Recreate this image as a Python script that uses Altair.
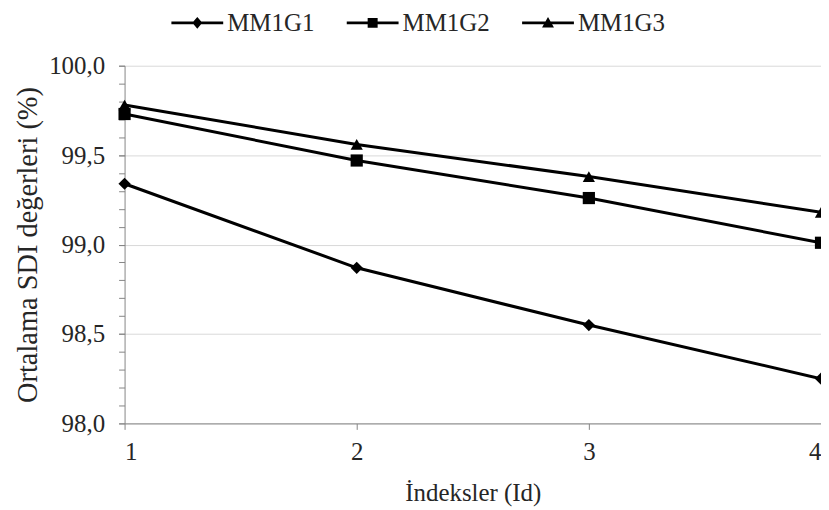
import altair as alt
import pandas as pd

# ---- data ----
ids = [1, 2, 3, 4]
series_names = ["MM1G1", "MM1G2", "MM1G3"]
mm1g1 = [99.34, 98.87, 98.55, 98.25]
mm1g2 = [99.73, 99.47, 99.26, 99.01]
mm1g3 = [99.78, 99.56, 99.38, 99.18]

x_ticks = [1, 2, 3, 4]
y_major = [98.0, 98.5, 99.0, 99.5, 100.0]
y_minor = [98.0, 98.1, 98.2, 98.3, 98.4, 98.5, 98.6, 98.7, 98.8, 98.9,
           99.0, 99.1, 99.2, 99.3, 99.4, 99.5, 99.6, 99.7, 99.8, 99.9, 100.0]

rows = []
for name, vals in zip(series_names, [mm1g1, mm1g2, mm1g3]):
    for i, v in zip(ids, vals):
        rows.append({"series": name, "Id": i, "SDI": v})
df = pd.DataFrame(rows)

# ---- styling ----
FONT = "Liberation Serif"
TXT = "#262626"
AX = "#868686"
GRID = "#d9d9d9"

marker_shapes = ["diamond", "square", "triangle-up"]
# legend symbols: a horizontal line segment with the series marker on it
LINE = "M-2,-0.115H2V0.115H-2Z"
legend_shapes = [
    LINE + "M0,-0.46L0.385,0L0,0.46L-0.385,0Z",
    LINE + "M-0.385,-0.385H0.385V0.385H-0.385Z",
    LINE + "M0,-0.46L0.46,0.36L-0.46,0.36Z",
]

x_scale = alt.Scale(domain=[1, 4], nice=False, zero=False)
y_scale = alt.Scale(domain=[98, 100], nice=False, zero=False)
label_expr = "replace(format(datum.value, '.1f'), '.', ',')"

x_axis = alt.Axis(
    values=x_ticks, format="d", title="İndeksler (Id)", grid=False,
    domainColor=AX, tickColor=AX, tickSize=6,
    labelFont=FONT, labelFontSize=25, labelColor=TXT, labelPadding=10,
    titleFont=FONT, titleFontSize=25, titleFontWeight="normal",
    titleColor=TXT, titleY=77, titleBaseline="alphabetic",
)
x_enc = alt.X("Id:Q", scale=x_scale, axis=x_axis)

base = alt.Chart(df)

lines = base.mark_line(color="black", strokeWidth=3).encode(
    x=x_enc,
    y=alt.Y(
        "SDI:Q", scale=y_scale,
        axis=alt.Axis(
            values=y_major, labelExpr=label_expr, title="Ortalama SDI değerleri (%)",
            grid=True, gridColor=GRID, domainColor=AX, tickColor=AX, tickSize=6,
            labelFont=FONT, labelFontSize=25, labelColor=TXT, labelPadding=14,
            titleFont=FONT, titleFontSize=28.5, titleFontWeight="normal",
            titleColor=TXT, titleX=-97, titleY=179.5, titleBaseline="middle",
            orient="left",
        ),
    ),
    detail="series:N",
)

points = base.mark_point(filled=True, color="black", opacity=1, size=150).encode(
    x=x_enc,
    y=alt.Y("SDI:Q", scale=y_scale, axis=None),
    shape=alt.Shape(
        "series:N",
        scale=alt.Scale(domain=series_names, range=marker_shapes),
        legend=None,
    ),
)

legend_layer = base.mark_point(filled=True, color="black", opacity=1, size=0).encode(
    x=x_enc,
    y=alt.Y(
        "SDI:Q", scale=y_scale,
        axis=alt.Axis(
            values=y_minor, labels=False, grid=False, domain=False, ticks=True,
            tickSize=6, tickColor=AX, title=None, orient="left",
        ),
    ),
    shape=alt.Shape(
        "series:N",
        scale=alt.Scale(domain=series_names, range=legend_shapes),
        legend=alt.Legend(
            title=None, orient="none", legendX=60, legendY=-56,
            direction="horizontal", symbolSize=676, symbolStrokeWidth=0,
            symbolFillColor="black", symbolOpacity=1,
            labelFont=FONT, labelFontSize=25, labelColor=TXT,
            labelOffset=17, columnPadding=32, padding=0,
        ),
    ),
)

chart = (
    alt.layer(lines, points, legend_layer)
    .resolve_scale(shape="independent")
    .resolve_legend(shape="independent")
    .resolve_axis(y="independent")
    .properties(
        width=699, height=359,
        autosize=alt.AutoSizeParams(type="none"),
        padding={"left": 117, "top": 57, "right": 0, "bottom": 86},
        background="white",
    )
    .configure_view(stroke=None)
)

chart.save("out.html", embed_options={"renderer": "svg", "actions": False})
